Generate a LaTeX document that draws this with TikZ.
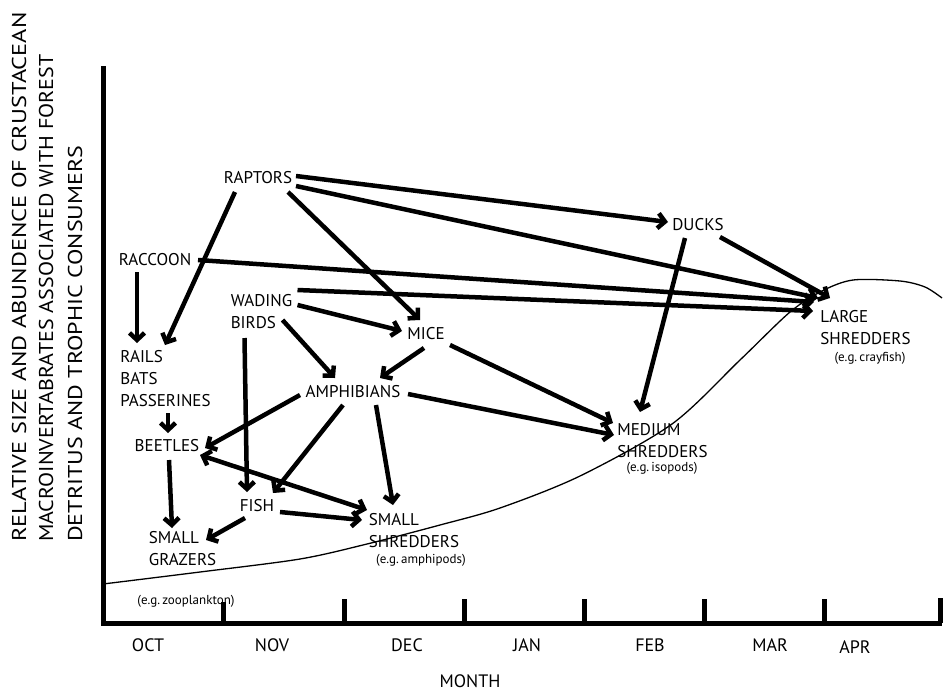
\documentclass[tikz,border=0pt]{standalone}
\usepackage{fontspec}
\setmainfont{PT Sans}
\usetikzlibrary{arrows.meta,calc}
\begin{document}
\begin{tikzpicture}[x=1pt,y=-1pt,
  lbl/.style={font=\fontsize{17}{22}\selectfont, inner sep=0pt, align=left},
  eg/.style={font=\fontsize{13}{15}\selectfont, inner sep=0pt},
  mon/.style={font=\fontsize{18}{22}\selectfont, inner sep=0pt},
  ylab/.style={font=\fontsize{20}{24}\selectfont, inner sep=0pt, rotate=90, anchor=base west},
  axis/.style={line width=5pt},
  tick/.style={line width=5pt},
  curve/.style={line width=1.3pt},
  arr/.style={line width=4.5pt, -{Straight Barb[length=7pt,width=15pt]}},
  darr/.style={line width=4.5pt, {Straight Barb[length=7pt,width=15pt]}-{Straight Barb[length=7pt,width=15pt]}}
]
\useasboundingbox[fill=white] (0,0) rectangle (944,694);

% y-axis label
\node[ylab] (yl1) at (26,542) {\scalebox{1.22}[1]{RELATIVE SIZE AND ABUNDENCE OF CRUSTACEAN}};
\node[ylab] (yl2) at (53,542) {\scalebox{1.10}[1]{MACROINVERTABRATES ASSOCIATED WITH FOREST}};
\node[ylab] (yl3) at (82,542) {\scalebox{1.2}[1]{DETRITUS AND TROPHIC CONSUMERS}};

% curve
\draw[curve] plot[smooth, tension=0.5] coordinates {(103,584) (200,572) (300,559) (367,544) (440,525) (500,508) (580,476) (672,424) (740,360) (790,312) (822,291) (853,280) (900,281) (925,287) (942,298)};

% nodes
\node[lbl] (raptors) at (258,178) {RAPTORS};
\node[lbl] (ducks) at (698,225) {DUCKS};
\node[lbl] (raccoon) at (155,260) {RACCOON};
\node[lbl] (wading) at (261.5,312) {WADING\\BIRDS};
\node[lbl] (mice) at (426,334) {MICE};
\node[lbl] (rails) at (165.5,378.5) {RAILS\\BATS\\PASSERINES};
\node[lbl] (amph) at (353,392) {AMPHIBIANS};
\node[lbl] (beetles) at (167,446) {BEETLES};
\node[lbl] (fish) at (257,506) {FISH};
\node[lbl] (grazers) at (182.5,549) {SMALL\\GRAZERS};
\node[lbl] (sshred) at (414,531) {SMALL\\SHREDDERS};
\node[eg] (sshredeg) at (421,560) {(e.g.\,amphipods)};
\node[lbl] (mshred) at (662.5,441) {MEDIUM\\SHREDDERS};
\node[eg] (mshredeg) at (662,468) {(e.g.\,isopods)};
\node[lbl] (lshred) at (865.5,327.5) {LARGE\\SHREDDERS};
\node[eg] (lshredeg) at (870,358) {(e.g.\,crayfish)};
\node[eg] (zoo) at (186,601) {(e.g.\,zooplankton)};

% arrows
\draw[arr] ($(raptors)+(38,-2)$) -- ($(ducks)+(-30,-3)$);
\draw[arr] ($(raptors)+(38,8)$) -- ($(lshred)+(-47.5,-29.5)$);
\draw[arr] ($(raptors)+(30,14)$) -- ($(mice)+(-6,-14)$);
\draw[arr] ($(raptors)+(-23,14)$) -- ($(rails)+(-0.5,-33.5)$);
\draw[arr] ($(raccoon)+(43,0)$) -- ($(lshred)+(-51.5,-25.5)$);
\draw[arr] ($(raccoon)+(-18,12)$) -- ($(rails)+(-28.5,-35.5)$);
\draw[arr] ($(wading)+(36,-22)$) -- ($(lshred)+(-52.5,-16.5)$);
\draw[arr] ($(wading)+(36,-7)$) -- ($(mice)+(-24,-3)$);
\draw[arr] ($(wading)+(21,8)$) -- ($(amph)+(-18,-14)$);
\draw[arr] ($(wading)+(-17,26)$) -- ($(fish)+(-10,-14)$);
\draw[arr] ($(mice)+(-2,14)$) -- ($(amph)+(27,-14)$);
\draw[arr] ($(mice)+(24,11)$) -- ($(mshred)+(-49.5,-18)$);
\draw[arr] ($(ducks)+(-13,13)$) -- ($(mshred)+(-22.5,-29)$);
\draw[arr] ($(ducks)+(22,12)$) -- ($(lshred)+(-35.5,-29.5)$);
\draw[arr] ($(amph)+(55,2)$) -- ($(mshred)+(-48.5,-6)$);
\draw[arr] ($(amph)+(-53,3)$) -- ($(beetles)+(38,2)$);
\draw[arr] ($(amph)+(-10,13)$) -- ($(fish)+(16,-13)$);
\draw[arr] ($(amph)+(23,13)$) -- ($(sshred)+(-21,-26)$);
\draw[arr] ($(rails)+(2.5,34.5)$) -- ($(beetles)+(1,-13)$);
\draw[darr] ($(beetles)+(33,9)$) -- ($(sshred)+(-47,-21)$);
\draw[arr] ($(beetles)+(2,14)$) -- ($(grazers)+(-10.5,-21)$);
\draw[arr] ($(fish)+(-12,12)$) -- ($(grazers)+(23.5,-9)$);
\draw[arr] ($(fish)+(23,6)$) -- ($(sshred)+(-52,-11)$);

% axes
\coordinate (o) at (103,623);
\coordinate (ytop) at (103,66);
\coordinate (xend) at (942,623);
\draw[axis] (ytop) -- (o) -- (xend);
\foreach \x/\t in {223/602,344/599,464/599,584/599,704/599,824/599,940/598}
  \draw[tick] (\x,\t) -- (\x,623);

% month labels
\node[mon] (oct) at (148,645) {OCT};
\node[mon] (nov) at (272,645) {NOV};
\node[mon] (dec) at (407,645) {DEC};
\node[mon] (jan) at (527,645) {JAN};
\node[mon] (feb) at (650,645) {FEB};
\node[mon] (mar) at (770,645) {MAR};
\node[mon] (apr) at (855,647) {APR};
\node[mon] (month) at (470,681) {MONTH};
\end{tikzpicture}
\end{document}
